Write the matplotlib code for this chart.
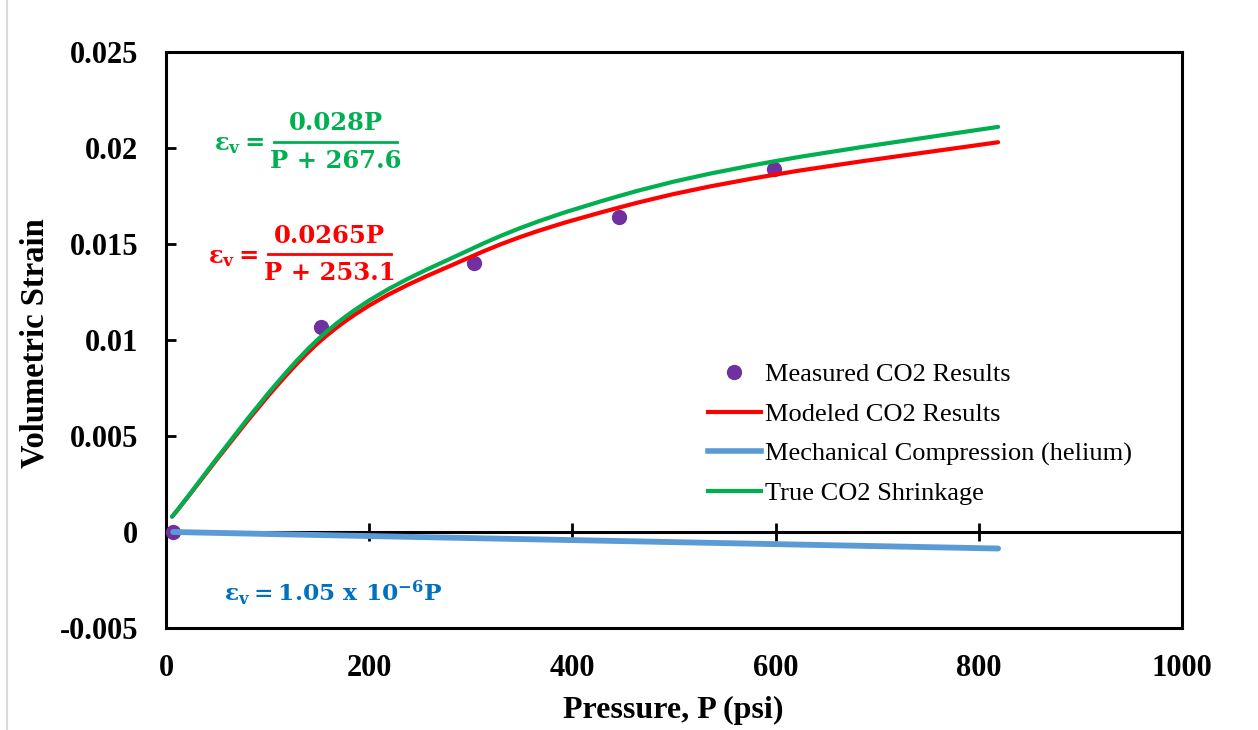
import numpy as np
import matplotlib
matplotlib.use('Agg')
import matplotlib.pyplot as plt
from matplotlib.path import Path
from matplotlib.patches import PathPatch
from matplotlib.lines import Line2D
from matplotlib.transforms import Affine2D

# ---------------- data ----------------
P_measured = [7, 153, 303, 446, 598]
strain_measured = [0.0, 0.0107, 0.0140, 0.0164, 0.0189]

P_curve = [6, 153, 303, 446, 598, 819]
strain_modeled = [0.0008, 0.0100, 0.0144, 0.0169, 0.0186, 0.0203]
strain_true = [0.0008, 0.0102, 0.0148, 0.0175, 0.0193, 0.0211]

P_helium = [7, 153, 303, 446, 598, 819]
strain_helium = [0.0, -0.00016, -0.00032, -0.00047, -0.00063, -0.00086]

x_ticks = [0, 200, 400, 600, 800, 1000]
x_tick_labels = ['0', '200', '400', '600', '800', '1000']
y_ticks = [-0.005, 0.0, 0.005, 0.01, 0.015, 0.02, 0.025]
y_tick_labels = ['-0.005', '0', '0.005', '0.01', '0.015', '0.02', '0.025']

legend_labels = ['Measured CO2 Results', 'Modeled CO2 Results',
                 'Mechanical Compression (helium)', 'True CO2 Shrinkage']

eq_lhs = r'$\varepsilon_{v} =$'
eq_true_num, eq_true_den = '0.028P', 'P + 267.6'
eq_model_num, eq_model_den = '0.0265P', 'P + 253.1'
eq_helium = r'$\varepsilon_{v} = 1.05\ \mathrm{x}\ 10^{-6}P$'

C_MEAS = '#7030A0'
C_MODEL = '#FF0000'
C_HEL = '#5B9BD5'
C_TRUE = '#00B050'
C_HEL_TXT = '#0070C0'

# ---------------- style ----------------
plt.rcParams['font.family'] = ['Liberation Serif', 'DejaVu Serif']
plt.rcParams['mathtext.fontset'] = 'custom'
plt.rcParams['mathtext.rm'] = 'DejaVu Serif:bold'
plt.rcParams['mathtext.it'] = 'DejaVu Serif:bold'
plt.rcParams['mathtext.bf'] = 'DejaVu Serif:bold'


def smooth_path(xs, ys):
    """Excel-like smoothed line (Bezier through the points)."""
    pts = np.column_stack([xs, ys]).astype(float)
    n = len(pts)
    verts = [pts[0]]
    codes = [Path.MOVETO]
    for i in range(n - 1):
        p0 = pts[i - 1] if i > 0 else pts[i]
        p1 = pts[i]
        p2 = pts[i + 1]
        p3 = pts[i + 2] if i + 2 < n else pts[i + 1]
        c1 = p1 + (p2 - p0) / 6.0
        c2 = p2 - (p3 - p1) / 6.0
        verts += [c1, c2, p2]
        codes += [Path.CURVE4] * 3
    return Path(verts, codes)


W, H = 1258, 730
fig = plt.figure(figsize=(W / 100, H / 100), dpi=100)
ax = fig.add_axes([166 / W, 1 - 628 / H, 1016 / W, 576 / H])
# pixel transform (origin top-left) for annotation layout
px = Affine2D().scale(1 / W, -1 / H).translate(0, 1) + fig.transFigure

ax.set_xlim(0, 1000)
ax.set_ylim(-0.005, 0.025)

# measured points
ax.scatter(P_measured, strain_measured, s=11 ** 2, color=C_MEAS, zorder=3,
           linewidths=0)

# smoothed lines
for xs, ys, c, lw in [(P_curve, strain_modeled, C_MODEL, 3.0),
                      (P_helium, strain_helium, C_HEL, 4.2),
                      (P_curve, strain_true, C_TRUE, 3.0)]:
    ax.add_patch(PathPatch(smooth_path(xs, ys), facecolor='none', edgecolor=c,
                           lw=lw, capstyle='round', joinstyle='round', zorder=4))

# spines / axes
for s in ['left', 'right', 'top']:
    ax.spines[s].set_linewidth(2.2)
ax.spines['bottom'].set_position(('data', 0))
ax.spines['bottom'].set_linewidth(2.2)
ax.spines['bottom'].set_zorder(2)

ax.set_xticks(x_ticks)
ax.tick_params(axis='x', direction='inout', length=13, width=2,
               labelbottom=False)
ax.set_yticks(y_ticks)
ax.set_yticklabels(y_tick_labels)
ax.tick_params(axis='y', direction='in', length=7, width=2, pad=20,
               labelsize=22)
for t in ax.get_yticklabels():
    t.set_fontweight('bold')

sec = ax.secondary_xaxis('bottom')
sec.set_xticks(x_ticks)
sec.set_xticklabels(x_tick_labels)
sec.tick_params(length=0, pad=18.5, labelsize=22)
for t in sec.get_xticklabels():
    t.set_fontweight('bold')
sec.spines['bottom'].set_linewidth(2.2)

fig.text(673, 710, 'Pressure, P (psi)', transform=px, fontsize=23,
         fontweight='bold', ha='center', va='center')
fig.text(35, 343, 'Volumetric Strain', transform=px, fontsize=23.5,
         fontweight='bold', ha='center', va='center', rotation=90)

# equations (fractions built from pieces)
EQ_FS = 17.5
eq_font = dict(family='DejaVu Serif', weight='bold', fontsize=EQ_FS)


def fraction_eq(x_lhs, base_lhs, num, den, x0, x1, y_bar, base_num, base_den, color):
    fig.text(x_lhs, base_lhs, eq_lhs, transform=px, color=color, fontsize=EQ_FS,
             ha='left', va='baseline')
    xc = 0.5 * (x0 + x1)
    fig.text(xc, base_num, num, transform=px, color=color, ha='center',
             va='baseline', **eq_font)
    fig.text(xc, base_den, den, transform=px, color=color, ha='center',
             va='baseline', **eq_font)
    fig.add_artist(Line2D([x0, x1], [y_bar, y_bar], transform=px, color=color,
                          lw=2.0))


fraction_eq(214, 150, eq_true_num, eq_true_den, 274, 397, 142, 130, 168, C_TRUE)
fraction_eq(208, 263, eq_model_num, eq_model_den, 268, 391, 254, 243, 280, C_MODEL)
fig.text(224, 601, eq_helium, transform=px, color=C_HEL_TXT, fontsize=16.8,
         ha='left', va='baseline')

# legend
handles = [Line2D([], [], ls='none', marker='o', color=C_MEAS, ms=11, mew=0),
           Line2D([], [], color=C_MODEL, lw=3),
           Line2D([], [], color=C_HEL, lw=4),
           Line2D([], [], color=C_TRUE, lw=3)]
leg = ax.legend(handles, legend_labels, loc='upper left',
                bbox_to_anchor=(708 / W, 1 - 363 / H),
                bbox_transform=fig.transFigure, frameon=False, fontsize=19,
                borderpad=0, borderaxespad=0, handlelength=2.0,
                handletextpad=0.15, labelspacing=0.6, numpoints=1)

# light gray frame line at left
fig.add_artist(Line2D([7 / W, 7 / W], [0, 1], transform=fig.transFigure,
                      color='#D9D9D9', lw=1.5))

fig.savefig('out.png', dpi=100)
